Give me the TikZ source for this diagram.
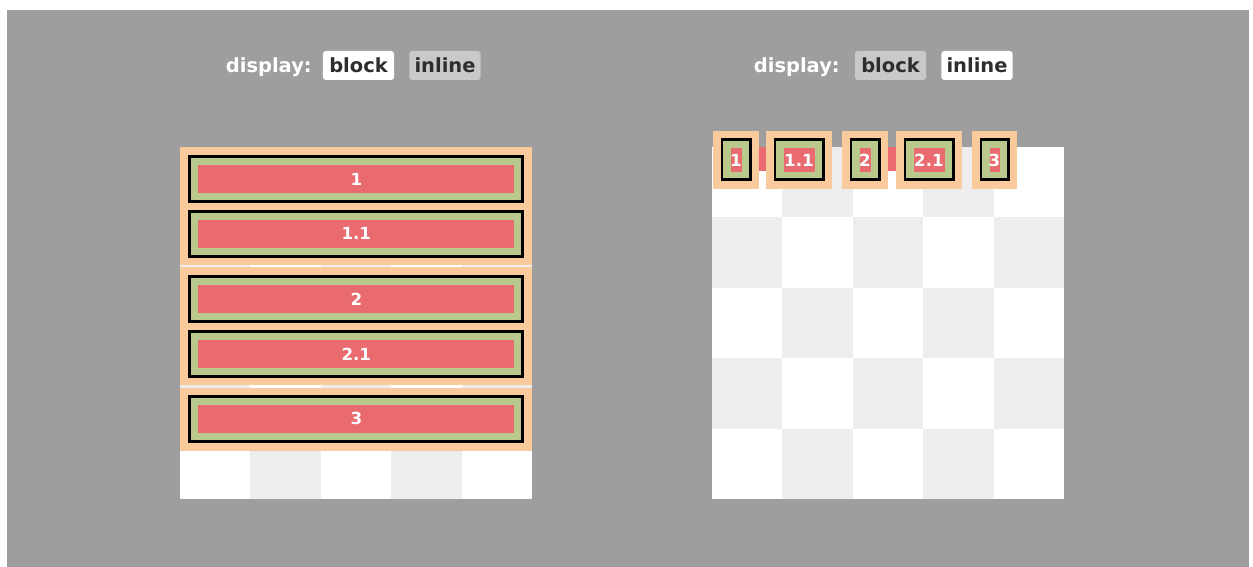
\documentclass[tikz,border=0pt]{standalone}
\usepackage{fontspec}
\setmainfont{DejaVu Sans}
\definecolor{panelgray}{HTML}{9E9E9E}
\definecolor{checkgray}{HTML}{EDEDED}
\definecolor{boxorange}{HTML}{F9CB9C}
\definecolor{boxgreen}{HTML}{B9C98B}
\definecolor{boxred}{HTML}{E96A6F}
\definecolor{tabgray}{HTML}{C9C9C9}
\definecolor{tabtext}{HTML}{2E2E2E}
\tikzset{
    headtext/.style={text=white, inner sep=0pt, font=\fontsize{14.6}{16}\selectfont\bfseries},
    tab/.style={rounded corners=2.25pt, inner sep=0pt, minimum width=53.5pt, minimum height=21.75pt,
        text=tabtext, font=\fontsize{14.6}{16}\selectfont\bfseries},
    num/.style={text=white, inner sep=0pt, font=\fontsize{12.5}{14}\selectfont\bfseries},
    border/.style={draw=black, line width=1.95pt},
}
\begin{document}
\begin{tikzpicture}[x=0.75pt,y=-0.75pt]
    \useasboundingbox (0,0) rectangle (1253,567);
    \fill[white] (0,0) rectangle (1253,567);
    \fill[panelgray] (7,10) rectangle (1249,567);

    \foreach \ox in {180,712} {
        \fill[white] (\ox,147) rectangle ++(352,352);
        \foreach \i in {0,...,4} {
            \foreach \j in {0,...,4} {
                \pgfmathtruncatemacro\odd{mod(\i+\j,2)}
                \ifnum\odd=1
                    \fill[checkgray] ({\ox+70.4*\i},{147+70.4*\j}) rectangle ++(70.4,70.4);
                \fi
            }
        }
    }

    \node[headtext, anchor=base east] (dispL) at (312,72.5) {display:};
    \node[tab, fill=white] (blockL) at (358.5,65.5) {block};
    \node[tab, fill=tabgray] (inlineL) at (445,65.5) {inline};
    \node[headtext, anchor=base east] (dispR) at (840,72.5) {display:};
    \node[tab, fill=tabgray] (blockR) at (890.5,65.5) {block};
    \node[tab, fill=white] (inlineR) at (977,65.5) {inline};

    \foreach \t/\b in {147/265, 267/385, 388/450.5} {
        \fill[boxorange] (180,\t) rectangle (532,\b);
    }
    \foreach \t/\txt/\nm in {155.3/1/l1, 210/1.1/l11, 275.3/2/l2, 330/2.1/l21, 395/3/l3} {
        \fill[boxgreen] (188.3,\t) rectangle ({523.7},{\t+47.5});
        \draw[border] (189.6,{\t+1.3}) rectangle (522.4,{\t+46.2});
        \fill[boxred] (198.3,{\t+9.7}) rectangle (514.3,{\t+38});
        \node[num] (\nm) at (356.3,{\t+23.85}) {\txt};
    }

    \fill[boxred] (759,147) rectangle (766,171);
    \fill[boxred] (888,147) rectangle (896,171);
    \foreach \l/\r/\txt/\nm in {713/759/1/r1, 766/832/1.1/r11, 842/888/2/r2, 896/962/2.1/r21, 972/1017/3/r3} {
        \fill[boxorange] (\l,130.5) rectangle (\r,188.5);
        \fill[boxgreen] ({\l+7.5},138.3) rectangle ({\r-7.5},181);
        \draw[border] ({\l+8.8},139.6) rectangle ({\r-8.8},179.7);
        \fill[boxred] ({\l+17.5},148.3) rectangle ({\r-17.5},171.7);
        \node[num] (\nm) at ({(\l+\r)/2},160) {\txt};
    }
\end{tikzpicture}
\end{document}
